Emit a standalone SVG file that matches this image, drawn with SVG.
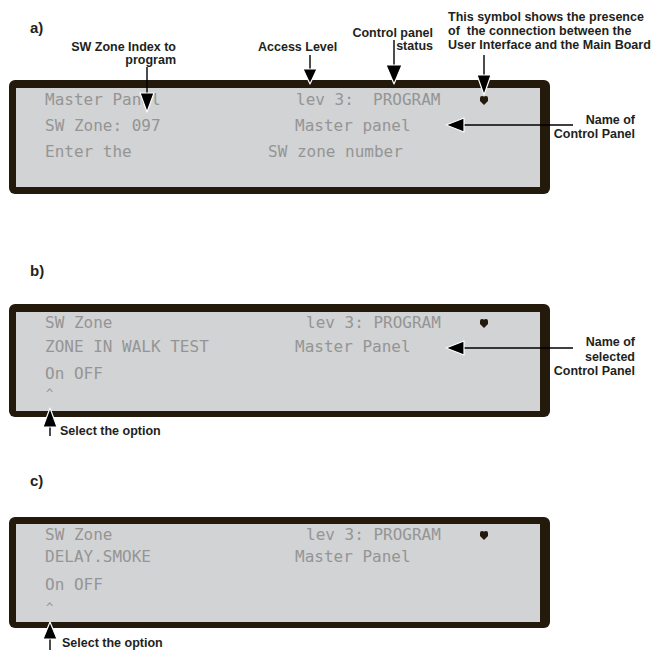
<svg xmlns="http://www.w3.org/2000/svg" width="666" height="650" viewBox="0 0 666 650">
<style>
.frame{fill:#231a0b}
.screen{fill:#d1d3d4}
.lcd{font-family:"DejaVu Sans Mono","Liberation Mono",monospace;font-size:16px;fill:#959595;white-space:pre}
.caret{font-family:"DejaVu Sans Mono","Liberation Mono",monospace;font-size:12px;fill:#959595}
.lbl{font-family:"Liberation Sans",Arial,sans-serif;font-weight:bold;font-size:12.5px;fill:#231f20;white-space:pre}
.sec{font-family:"Liberation Sans",Arial,sans-serif;font-weight:bold;font-size:15px;fill:#231f20}
.ln{stroke:#000;stroke-width:1.4;fill:none}
.hd{fill:#000;stroke:#fff;stroke-width:1.2;stroke-linejoin:round}
.dot{fill:#231a0b}
</style>
<defs>
<path id="sym" d="M-4,-3 q0,-2 2,-2 q2,0 2,1 q0,-1 2,-1 q2,0 2,2 v3 l-4,4 l-4,-4 z"/>
</defs>

<g id="label-a"><text class="sec" x="30" y="33">a)</text></g>
<g id="label-b"><text class="sec" x="30" y="276">b)</text></g>
<g id="label-c"><text class="sec" x="30" y="486">c)</text></g>

<g id="panel-a">
<rect class="frame" x="9" y="80" width="541" height="114" rx="6"/>
<rect class="screen" x="16" y="88" width="524" height="99"/>
<text class="lcd" x="45" y="105">Master Panel</text>
<text class="lcd" x="296" y="105" xml:space="preserve">lev 3:  PROGRAM</text>
<text class="lcd" x="45" y="131">SW Zone: 097</text>
<text class="lcd" x="295" y="131">Master panel</text>
<text class="lcd" x="45" y="157">Enter the</text>
<text class="lcd" x="268" y="157">SW zone number</text>
<use href="#sym" class="dot" x="484" y="101"/>
</g>

<g id="panel-b">
<rect class="frame" x="9" y="304" width="541" height="113" rx="6"/>
<rect class="screen" x="16" y="312" width="524" height="99"/>
<text class="lcd" x="45" y="328">SW Zone</text>
<text class="lcd" x="306" y="328">lev 3: PROGRAM</text>
<text class="lcd" x="45" y="352">ZONE IN WALK TEST</text>
<text class="lcd" x="295" y="352">Master Panel</text>
<text class="lcd" x="45" y="379">On OFF</text>
<text class="caret" x="46" y="398">^</text>
<use href="#sym" class="dot" x="484" y="324"/>
</g>

<g id="panel-c">
<rect class="frame" x="9" y="517" width="541" height="111" rx="6"/>
<rect class="screen" x="16" y="524" width="524" height="98"/>
<text class="lcd" x="45" y="540">SW Zone</text>
<text class="lcd" x="306" y="540">lev 3: PROGRAM</text>
<text class="lcd" x="45" y="562">DELAY.SMOKE</text>
<text class="lcd" x="295" y="562">Master Panel</text>
<text class="lcd" x="45" y="590">On OFF</text>
<text class="caret" x="46" y="612">^</text>
<use href="#sym" class="dot" x="484" y="536"/>
</g>

<g id="annotations">
<text class="lbl" x="176" y="51" text-anchor="end">SW Zone Index to</text>
<text class="lbl" x="176" y="64" text-anchor="end">program</text>
<text class="lbl" x="258" y="51">Access Level</text>
<text class="lbl" x="433" y="37" text-anchor="end">Control panel</text>
<text class="lbl" x="433" y="50" text-anchor="end">status</text>
<text class="lbl" x="448" y="21">This symbol shows the presence</text>
<text class="lbl" x="448" y="35" xml:space="preserve">of  the connection between the</text>
<text class="lbl" x="448" y="49">User Interface and the Main Board</text>
<text class="lbl" x="635" y="124" text-anchor="end">Name of</text>
<text class="lbl" x="635" y="138" text-anchor="end">Control Panel</text>
<text class="lbl" x="635" y="346" text-anchor="end">Name of</text>
<text class="lbl" x="635" y="361" text-anchor="end">selected</text>
<text class="lbl" x="635" y="375" text-anchor="end">Control Panel</text>
<text class="lbl" x="60" y="435">Select the option</text>
<text class="lbl" x="62" y="647">Select the option</text>
</g>

<g id="connectors">
<line class="ln" x1="147" y1="67" x2="147" y2="95"/>
<polygon class="hd" points="140,93 154,93 147,112"/>
<line class="ln" x1="310" y1="55" x2="310" y2="71"/>
<polygon class="hd" points="303,69 317,69 310,84"/>
<line class="ln" x1="394" y1="40" x2="394" y2="67"/>
<polygon class="hd" points="386,65 402,65 394,84"/>
<line class="ln" x1="484" y1="55" x2="484" y2="77"/>
<polygon class="hd" points="477,75 491,75 484,95"/>
<line class="ln" x1="573" y1="125" x2="462" y2="125"/>
<polygon class="hd" points="464,118 464,132 446,125"/>
<line class="ln" x1="573" y1="348" x2="462" y2="348"/>
<polygon class="hd" points="464,341 464,355 446,348"/>
<line class="ln" x1="50" y1="436" x2="50" y2="425"/>
<polygon class="hd" points="43,427 57,427 50,408"/>
<line class="ln" x1="50" y1="650" x2="50" y2="637"/>
<polygon class="hd" points="43,639 57,639 50,622"/>
</g>
</svg>
